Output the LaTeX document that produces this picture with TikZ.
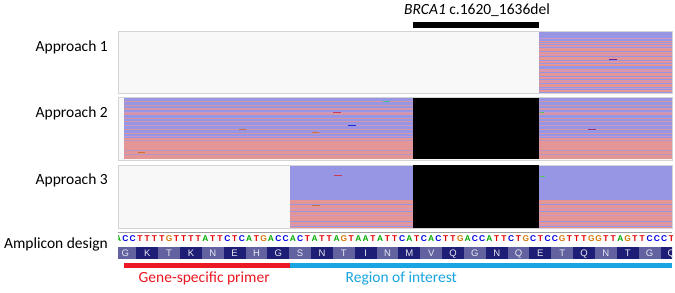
\documentclass[tikz,border=0pt]{standalone}
\usepackage{fontspec}
\setmainfont{Carlito}
\newfontfamily\seqfont{Liberation Sans}
\definecolor{rdblue}{RGB}{150,150,228}
\definecolor{rdpink}{RGB}{228,150,150}
\definecolor{rdmix}{RGB}{205,150,195}
\definecolor{pbg}{RGB}{248,248,248}
\definecolor{pframe}{RGB}{212,212,212}
\definecolor{aadark}{RGB}{30,30,118}
\definecolor{aalight}{RGB}{98,98,160}
\definecolor{ntA}{RGB}{0,170,0}
\definecolor{ntC}{RGB}{0,0,230}
\definecolor{ntG}{RGB}{215,120,10}
\definecolor{ntT}{RGB}{230,0,0}
\definecolor{primred}{RGB}{235,25,35}
\definecolor{roiblue}{RGB}{25,165,225}
\tikzset{
  lbl/.style={font=\fontsize{15.5}{17}\selectfont, anchor=east, inner sep=0pt},
  panel/.style={draw=pframe, line width=0.8pt, fill=pbg},
  delbox/.style={fill=black},
  seqlet/.style={font=\seqfont\bfseries\fontsize{8.4}{9}\selectfont, inner sep=0pt, text height=5.5pt, text depth=0pt},
  aalet/.style={font=\seqfont\fontsize{9.5}{10}\selectfont, inner sep=0pt, text height=6.5pt, text depth=0pt, text=white!85!aalight},
  readmark/.style={line width=1pt}
}
\begin{document}
\begin{tikzpicture}[x=1pt,y=-1pt]
\useasboundingbox (0,0) rectangle (675,292);
\fill[white] (0,0) rectangle (675,292);

% title and deletion bar
\node[font=\fontsize{15.5}{17}\selectfont, inner sep=0pt] (title) at (477,10) {\textit{BRCA1} c.1620\_1636del};
\fill (412.5,21.8) rectangle (539.3,27.5);

% labels
\node[lbl] (l1) at (108,47) {Approach 1};
\node[lbl] (l2) at (108,113) {Approach 2};
\node[lbl] (l3) at (108,180) {Approach 3};
\node[lbl] (l4) at (108,244) {Amplicon design};

% ---------- panel 1
\draw[panel] (118,31.5) rectangle (672,93);
\fill[rdpink] (539,32) rectangle (672,93);
\foreach \a/\b in {32/40.5,41.5/42.3,44/44.8,47/47.8,50.5/51.2,55.5/56.3,60/60.7,63/63.8,65.5/68.5,72/72.8,76/76.7,78.5/79.2,83/83.8,86.5/87.3,89/89.8,91.5/92.3}
  \fill[rdblue] (539,\a) rectangle (672,\b);
\foreach \a in {38,46,53.5,70,81,88.2}
  \fill[rdmix] (539,\a) rectangle (672,\a+0.5);
\draw[readmark, draw={rgb,255:red,90;green,40;blue,170}] (609,59) -- (617,59);

% ---------- panel 2
\draw[panel] (118,97) rectangle (672,160);
\fill[rdblue] (124,98) rectangle (672,159);
\fill[rdpink] (124,137.5) rectangle (672,159);
\foreach \a/\b in {100.5/101.5,104.5/105.5,108/110,113/114.5,117.5/118.5,121/122,128.5/130.3,133/134.2}
  \fill[rdpink!80!rdblue] (124,\a) rectangle (672,\b);
\foreach \a in {111.5,124.5,135.5}
  \fill[rdmix] (124,\a) rectangle (672,\a+0.6);
\foreach \a/\b in {140/140.8,149.5/150.3,154/154.8}
  \fill[rdblue!60!rdpink] (124,\a) rectangle (672,\b);
\fill[delbox] (412.7,98) rectangle (539.3,159);
\draw[readmark, draw={rgb,255:red,80;green,190;blue,140}] (383,101.7) -- (390,101.7);
\draw[readmark, draw={rgb,255:red,200;green,60;blue,90}] (333,112) -- (341,112);
\draw[readmark, draw={rgb,255:red,40;green,40;blue,220}] (348,125.7) -- (356,125.7);
\draw[readmark, draw={rgb,255:red,210;green,110;blue,60}] (239,129) -- (246,129);
\draw[readmark, draw={rgb,255:red,210;green,110;blue,60}] (312,132.3) -- (319,132.3);
\draw[readmark, draw={rgb,255:red,210;green,110;blue,40}] (138,152.7) -- (145,152.7);
\draw[readmark, draw={rgb,255:red,80;green,200;blue,90}] (540,112.7) -- (544,112.7);
\draw[readmark, draw={rgb,255:red,170;green,40;blue,110}] (588,129.3) -- (596,129.3);

% ---------- panel 3
\draw[panel] (118,165) rectangle (672,228);
\fill[rdblue] (290,165.5) rectangle (672,228);
\fill[rdpink] (290,199.5) rectangle (672,228);
\foreach \a/\b in {204/204.8,210.5/211.5,220.5/221.5,225.5/226.5}
  \fill[rdblue] (290,\a) rectangle (672,\b);
\foreach \a in {207.5,215,223.5}
  \fill[rdmix] (290,\a) rectangle (672,\a+0.5);
\fill[delbox] (412.7,165) rectangle (539.3,228);
\draw[readmark, draw={rgb,255:red,200;green,60;blue,90}] (334,175.5) -- (342,175.5);
\draw[readmark, draw={rgb,255:red,210;green,110;blue,60}] (312,205.5) -- (320,205.5);
\draw[readmark, draw={rgb,255:red,80;green,200;blue,90}] (540,176) -- (545,176);

% separator
\draw[gray!75, line width=1.4pt] (118,232.3) -- (672,232.3);

% ---------- amplicon design
\begin{scope}
\clip (118,234) rectangle (672,260);
\foreach \b [count=\i from 0] in {A,C,C,T,T,T,T,G,T,T,T,T,A,T,T,C,T,C,A,T,G,A,C,C,A,C,T,A,T,T,A,G,T,A,A,T,A,T,T,C,A,T,C,A,C,T,T,G,A,C,C,A,T,T,C,T,G,C,T,C,C,G,T,T,T,G,G,T,T,A,G,T,T,C,C,C,T}
  \node[seqlet, text=nt\b] (b\i) at ({114.5+7.28*(\i+0.5)},239) {\b};
\foreach \a [count=\i from 0] in {G,K,T,K,N,E,H,G,S,N,T,I,N,M,V,Q,G,N,Q,E,T,Q,N,T,G,Q} {
  \ifodd\i
    \fill[aadark] ({114.5+21.84*\i},247) rectangle ({114.5+21.84*(\i+1)},259);
  \else
    \fill[aalight] ({114.5+21.84*\i},247) rectangle ({114.5+21.84*(\i+1)},259);
  \fi
  \node[aalet] (aa\i) at ({114.5+21.84*(\i+0.5)},253) {\a};
}
\end{scope}

\fill[primred] (123.5,262.5) rectangle (290,268.2);
\fill[roiblue] (290,262.5) rectangle (671.5,268.2);
\node[font=\fontsize{15.5}{17}\selectfont, text=primred, inner sep=0pt, anchor=west] (gsp) at (138.5,278.5) {Gene-specific primer};
\node[font=\fontsize{15.5}{17}\selectfont, text=roiblue, inner sep=0pt, anchor=west] (roi) at (345.5,278.5) {Region of interest};
\end{tikzpicture}
\end{document}
